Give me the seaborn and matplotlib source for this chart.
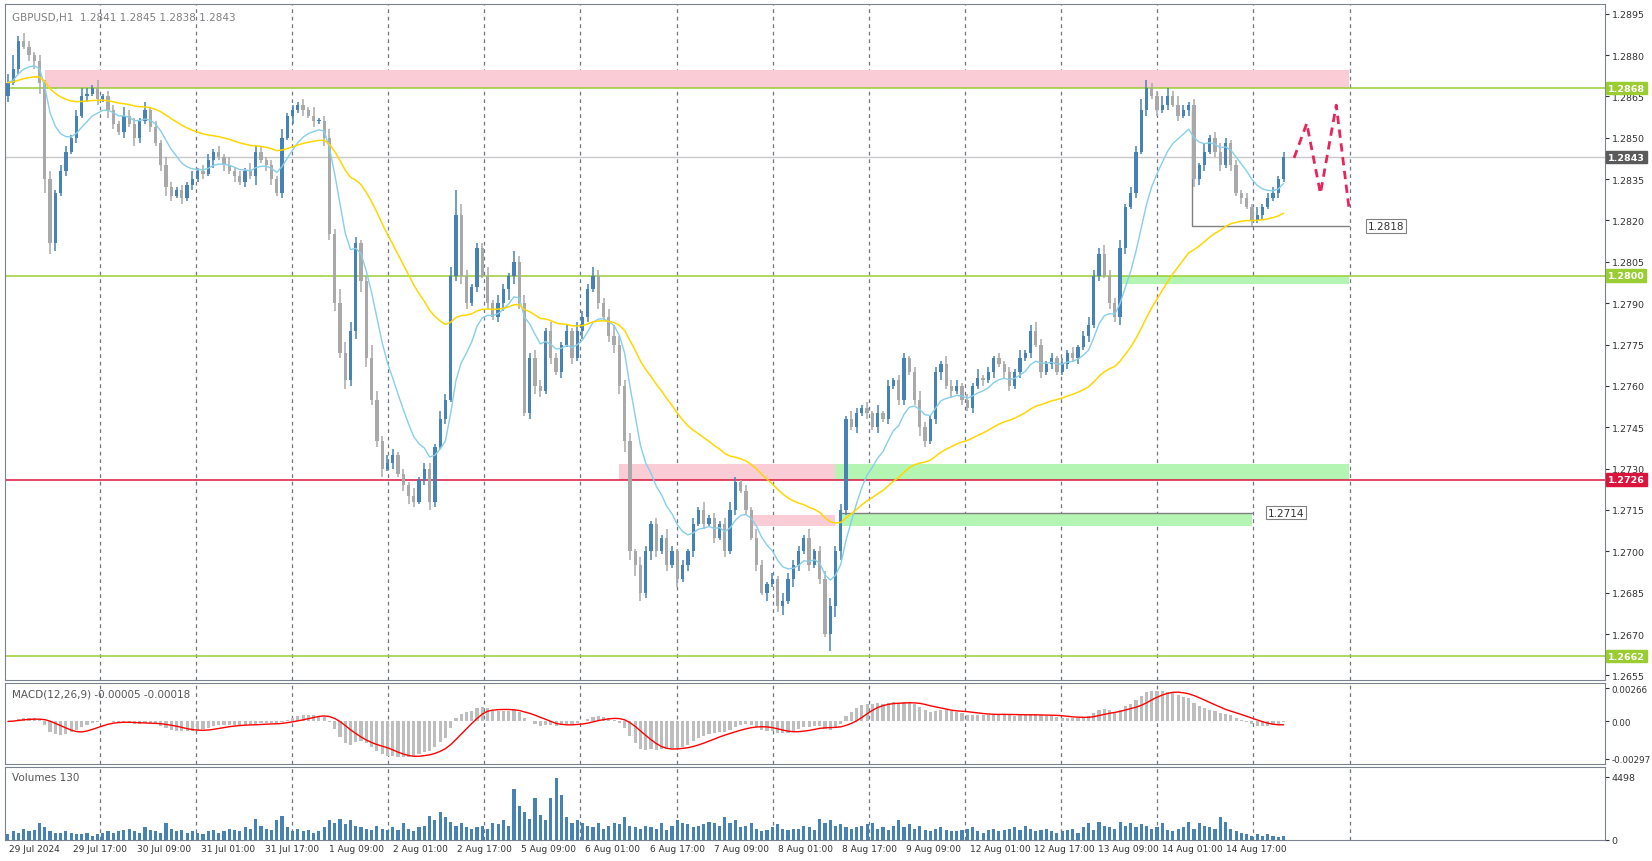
import numpy as np
import pandas as pd
import matplotlib
matplotlib.use("Agg")
import matplotlib.pyplot as plt
import seaborn as sns

# ---------------- data (closes in pips above 1.2600) ----------------
close_pips = [
 270,275,285,283,280,278,270,235,212,230,
 238,245,250,258,265,266,268,264,265,260,
 255,252,258,255,250,256,260,254,248,240,
 232,229,231,228,233,235,238,237,242,245,
 243,240,238,236,234,238,236,245,242,240,
 235,230,250,258,260,262,260,258,256,256,
 250,215,190,172,162,180,212,198,170,155,
 140,130,132,135,128,124,120,118,126,130,
 118,138,148,155,200,222,200,190,196,210,
 200,190,185,190,195,200,205,190,150,170,
 160,158,180,170,165,175,180,170,180,185,
 195,200,190,185,178,175,160,140,100,95,
 85,100,110,100,105,95,100,90,95,100,
 110,115,110,112,105,110,100,115,125,122,
 115,105,95,85,88,90,80,82,90,95,
 100,105,95,100,90,70,80,100,115,148,
 145,150,152,150,145,150,148,160,162,155,
 170,165,155,145,140,148,165,168,160,158,
 160,155,152,160,163,162,165,170,168,165,
 160,165,170,172,180,175,165,168,170,165,
 168,172,170,174,178,182,200,208,200,190,
 185,210,225,230,245,260,268,265,260,262,
 265,262,258,260,262,235,240,245,250,245,
 240,248,240,230,228,225,220,222,225,228,
 230,235,243]
first_open_pips = 265
upper_wick_pips = ("3523212131" "2212321312" "2132213121" "3212131221" "2131213221"
                   "2131212131" "2325432125" "3232121312" "2132394212" "2313214232"
                   "3213212132" "2322343231" "3212132121" "2131212321" "2132121322"
                   "2131233221" "3212131212" "2123212132" "2121312121" "2131232121"
                   "2121232232" "2312243223" "3232121312" "3212121312" "212")
lower_wick_pips = ("2121234543" "1212121213" "2121321212" "3212121213" "1212121312"
                   "2121312121" "3232323432" "2312123212" "3212123212" "1212343212"
                   "3212121213" "2121233434" "3232121312" "2121212121" "2121312313"
                   "2121216432" "1212121212" "2123212312" "1212121212" "2121212121"
                   "1212121212" "2321212121" "2121232212" "2121212121" "121")
volume_hundreds = [
 4,6,5,8,6,7,12,9,6,5, 5,6,5,4,4,5,3,4,5,6, 5,6,7,8,6,5,9,7,6,5,
 12,8,6,7,5,6,5,4,6,7, 5,6,8,7,6,9,8,15,10,8, 7,14,17,9,6,8,6,7,5,6,
 9,14,12,15,11,14,10,9,8,7, 10,8,7,9,7,12,8,6,9,10, 17,14,20,16,13,10,12,9,8,9,
 10,8,12,11,14,10,36,24,20,15, 30,18,14,30,44,32,16,12,14,12, 10,9,12,8,10,12,11,16,10,9,
 8,10,9,8,12,7,10,14,12,11, 9,10,11,13,12,10,16,12,14,9, 10,12,8,6,7,9,11,8,7,8,
 8,10,9,7,15,12,14,10,11,9, 8,9,10,11,12,8,9,7,10,14, 9,11,8,10,7,6,8,9,7,6,
 6,7,8,9,6,5,7,8,6,7, 8,9,7,10,8,6,7,8,6,5, 6,7,8,5,9,12,7,13,10,9,
 8,13,10,12,9,11,10,8,9,12, 7,6,8,9,13,8,12,10,9,8, 16,13,8,6,5,4,3,4,3,4,
 3,2,3]
date_labels = ["29 Jul 2024","29 Jul 17:00","30 Jul 09:00","31 Jul 01:00","31 Jul 17:00",
               "1 Aug 09:00","2 Aug 01:00","2 Aug 17:00","5 Aug 09:00","6 Aug 01:00",
               "6 Aug 17:00","7 Aug 09:00","8 Aug 01:00","8 Aug 17:00","9 Aug 09:00",
               "12 Aug 01:00","12 Aug 17:00","13 Aug 09:00","14 Aug 01:00","14 Aug 17:00"]
price_ticks = [1.2895,1.2880,1.2865,1.2850,1.2835,1.2820,1.2805,1.2790,1.2775,1.2760,
               1.2745,1.2730,1.2715,1.2700,1.2685,1.2670,1.2655]
green_levels = [1.2868, 1.2800, 1.2662]
red_level = 1.2726
current_price = 1.2843
forecast_prices = [1.28427, 1.28552, 1.28298, 1.28618, 1.28247]

# ---------------- derived ----------------
n = len(close_pips)
c = 1.26 + np.array(close_pips) / 1e4
o = np.concatenate([[1.26 + first_open_pips / 1e4], c[:-1]])
uw = np.array([int(ch) for ch in upper_wick_pips[:n]]) / 1e4
lw = np.array([int(ch) for ch in lower_wick_pips[:n]]) / 1e4
h = np.maximum(o, c) + uw
l = np.minimum(o, c) - lw
idx = np.arange(n)
df = pd.DataFrame({"i": idx, "c": c})
df["ema_fast"] = df["c"].ewm(span=11, adjust=False).mean()
df["ema_slow"] = df["c"].ewm(span=44, adjust=False).mean()
macd = df["c"].ewm(span=9, adjust=False).mean() - df["c"].ewm(span=20, adjust=False).mean()
signal = macd.rolling(7, min_periods=1).mean()
vol = np.array(volume_hundreds) * 100

BULL, BEAR = "#4682B4", "#A9A9A9"
FR = "#7A8290"
sns.set_style("white")
fig = plt.figure(figsize=(16.52, 8.62), dpi=100)
W = 1567; H = 817
def pos(x0, y0, x1, y1):
    return [x0 / W, 1 - y1 / H, (x1 - x0) / W, (y1 - y0) / H]
RX = 1522
ax = fig.add_axes(pos(5, 5, RX, 645))
axm = fig.add_axes(pos(5, 648, RX, 725), sharex=ax)
axv = fig.add_axes(pos(5, 728, RX, 797), sharex=ax)

px_per_bar = 5.0
xmax = (RX - 5) / px_per_bar - 0.5
def px2i(x):
    return (x - 5) / px_per_bar
grid_x = [px2i(92 + 91.2 * k) for k in range(14)]

for a in (ax, axm, axv):
    a.set_xlim(-0.5, xmax)
    for g in grid_x:
        a.axvline(g, color="#6E7585", ls=(0, (3, 3)), lw=0.9, zorder=0)
    for s in a.spines.values():
        s.set_color(FR)
    a.yaxis.tick_right()
    a.tick_params(axis="y", labelsize=6.8, colors="#333333", length=3, pad=2)
    a.tick_params(axis="x", bottom=False, labelbottom=False)

ylo, yhi = 1.26535, 1.28984
ax.set_ylim(ylo, yhi)
ax.set_yticks(price_ticks)
ax.set_yticklabels([f"{p:.4f}" for p in price_ticks])

def zone(x0, x1, p0, p1, col):
    ax.fill_between([px2i(x0), px2i(x1)], p0, p1, color=col, lw=0, zorder=1)
zone(40, 1277, 1.28680, 1.28745, "#F9CCD6")
zone(585, 792, 1.27260, 1.27315, "#F9CCD6")
zone(790, 1277, 1.27260, 1.27315, "#B4F5B4")
zone(710, 790, 1.27092, 1.27130, "#F9CCD6")
zone(795, 1185, 1.27092, 1.27140, "#B4F5B4")
zone(1060, 1277, 1.27970, 1.28000, "#B4F5B4")
ax.plot([px2i(795), px2i(1185)], [1.2714, 1.2714], color="#808080", lw=1, zorder=2)

for g in green_levels:
    ax.axhline(g, color="#9ACD32", lw=1.1, zorder=2)
ax.axhline(red_level, color="#DC143C", lw=1.1, zorder=2)
ax.axhline(current_price, color="#C8C8C8", lw=1, zorder=1)

ax.plot([px2i(1128), px2i(1128), px2i(1277)], [1.2860, 1.2818, 1.2818], color="#808080", lw=1, zorder=2)

colors = np.where(c >= o, BULL, BEAR)
ax.vlines(idx, l, h, colors=colors, lw=1.1, zorder=3)
body = np.abs(c - o)
body = np.where(body < 0.00004, 0.00004, body)
ax.bar(idx, body, bottom=np.minimum(o, c), width=0.62, color=colors, zorder=4, lw=0)

sns.lineplot(data=df, x="i", y="ema_fast", ax=ax, color="#87CEEB", lw=1, zorder=5)
sns.lineplot(data=df, x="i", y="ema_slow", ax=ax, color="#FFD700", lw=1.1, zorder=5)
ax.set_xlabel(""); ax.set_ylabel("")

ax.plot([px2i(x) for x in (1225, 1237, 1250, 1265, 1277)], forecast_prices,
        color="#E8245A", lw=2, ls=(0, (3, 2)), zorder=6)

ax.text(px2i(1295), 1.2818, "1.2818", fontsize=7.5, va="center", color="#333",
        bbox=dict(boxstyle="square,pad=0.15", fc="white", ec="#808080", lw=0.8))
ax.text(px2i(1200), 1.2714, "1.2714", fontsize=7.5, va="center", color="#333",
        bbox=dict(boxstyle="square,pad=0.15", fc="white", ec="#808080", lw=0.8))

def tag(p, fc, tc="white"):
    ax.text(1.002, (p - ylo) / (yhi - ylo), f"{p:.4f}", transform=ax.transAxes, fontsize=6.8,
            va="center", ha="left", color=tc, fontweight="bold", clip_on=False, zorder=10,
            bbox=dict(boxstyle="square,pad=0.2", fc=fc, ec=fc))
tag(1.2868, "#9ACD32")
tag(1.2800, "#9ACD32")
tag(1.2662, "#9ACD32")
tag(1.2726, "#DC143C")
tag(1.2843, "#5A5A5A")

ax.text(0.004, 0.988, "GBPUSD,H1  1.2841 1.2845 1.2838 1.2843", transform=ax.transAxes,
        fontsize=7.5, color="#808080", va="top")

axm.bar(idx, macd.values, width=0.6, color="#BEBEBE", lw=0)
axm.plot(idx, signal.values, color="#FF0000", lw=1)
axm.set_ylim(-0.0034, 0.0031)
axm.set_yticks([0.00266, 0.0, -0.00297])
axm.set_yticklabels(["0.00266", "0.00", "-0.00297"])
axm.tick_params(axis="y", labelsize=6.3)
axm.text(0.004, 0.93, "MACD(12,26,9) -0.00005 -0.00018", transform=axm.transAxes,
         fontsize=7.5, color="#555", va="top")

axv.bar(idx, vol, width=0.6, color=BULL, lw=0)
axv.set_ylim(0, 5200)
axv.set_yticks([4498, 0])
axv.set_yticklabels(["4498", "0"])
axv.text(0.004, 0.93, "Volumes 130", transform=axv.transAxes, fontsize=7.5, color="#555", va="top")

for k, lab in enumerate(date_labels):
    fig.text((5 + 60.8 * k) / W + 0.002, 1 - 805 / H, lab, fontsize=6.5, color="#333",
             va="center", ha="left")

fig.savefig("out.png", dpi=100, facecolor="white")
